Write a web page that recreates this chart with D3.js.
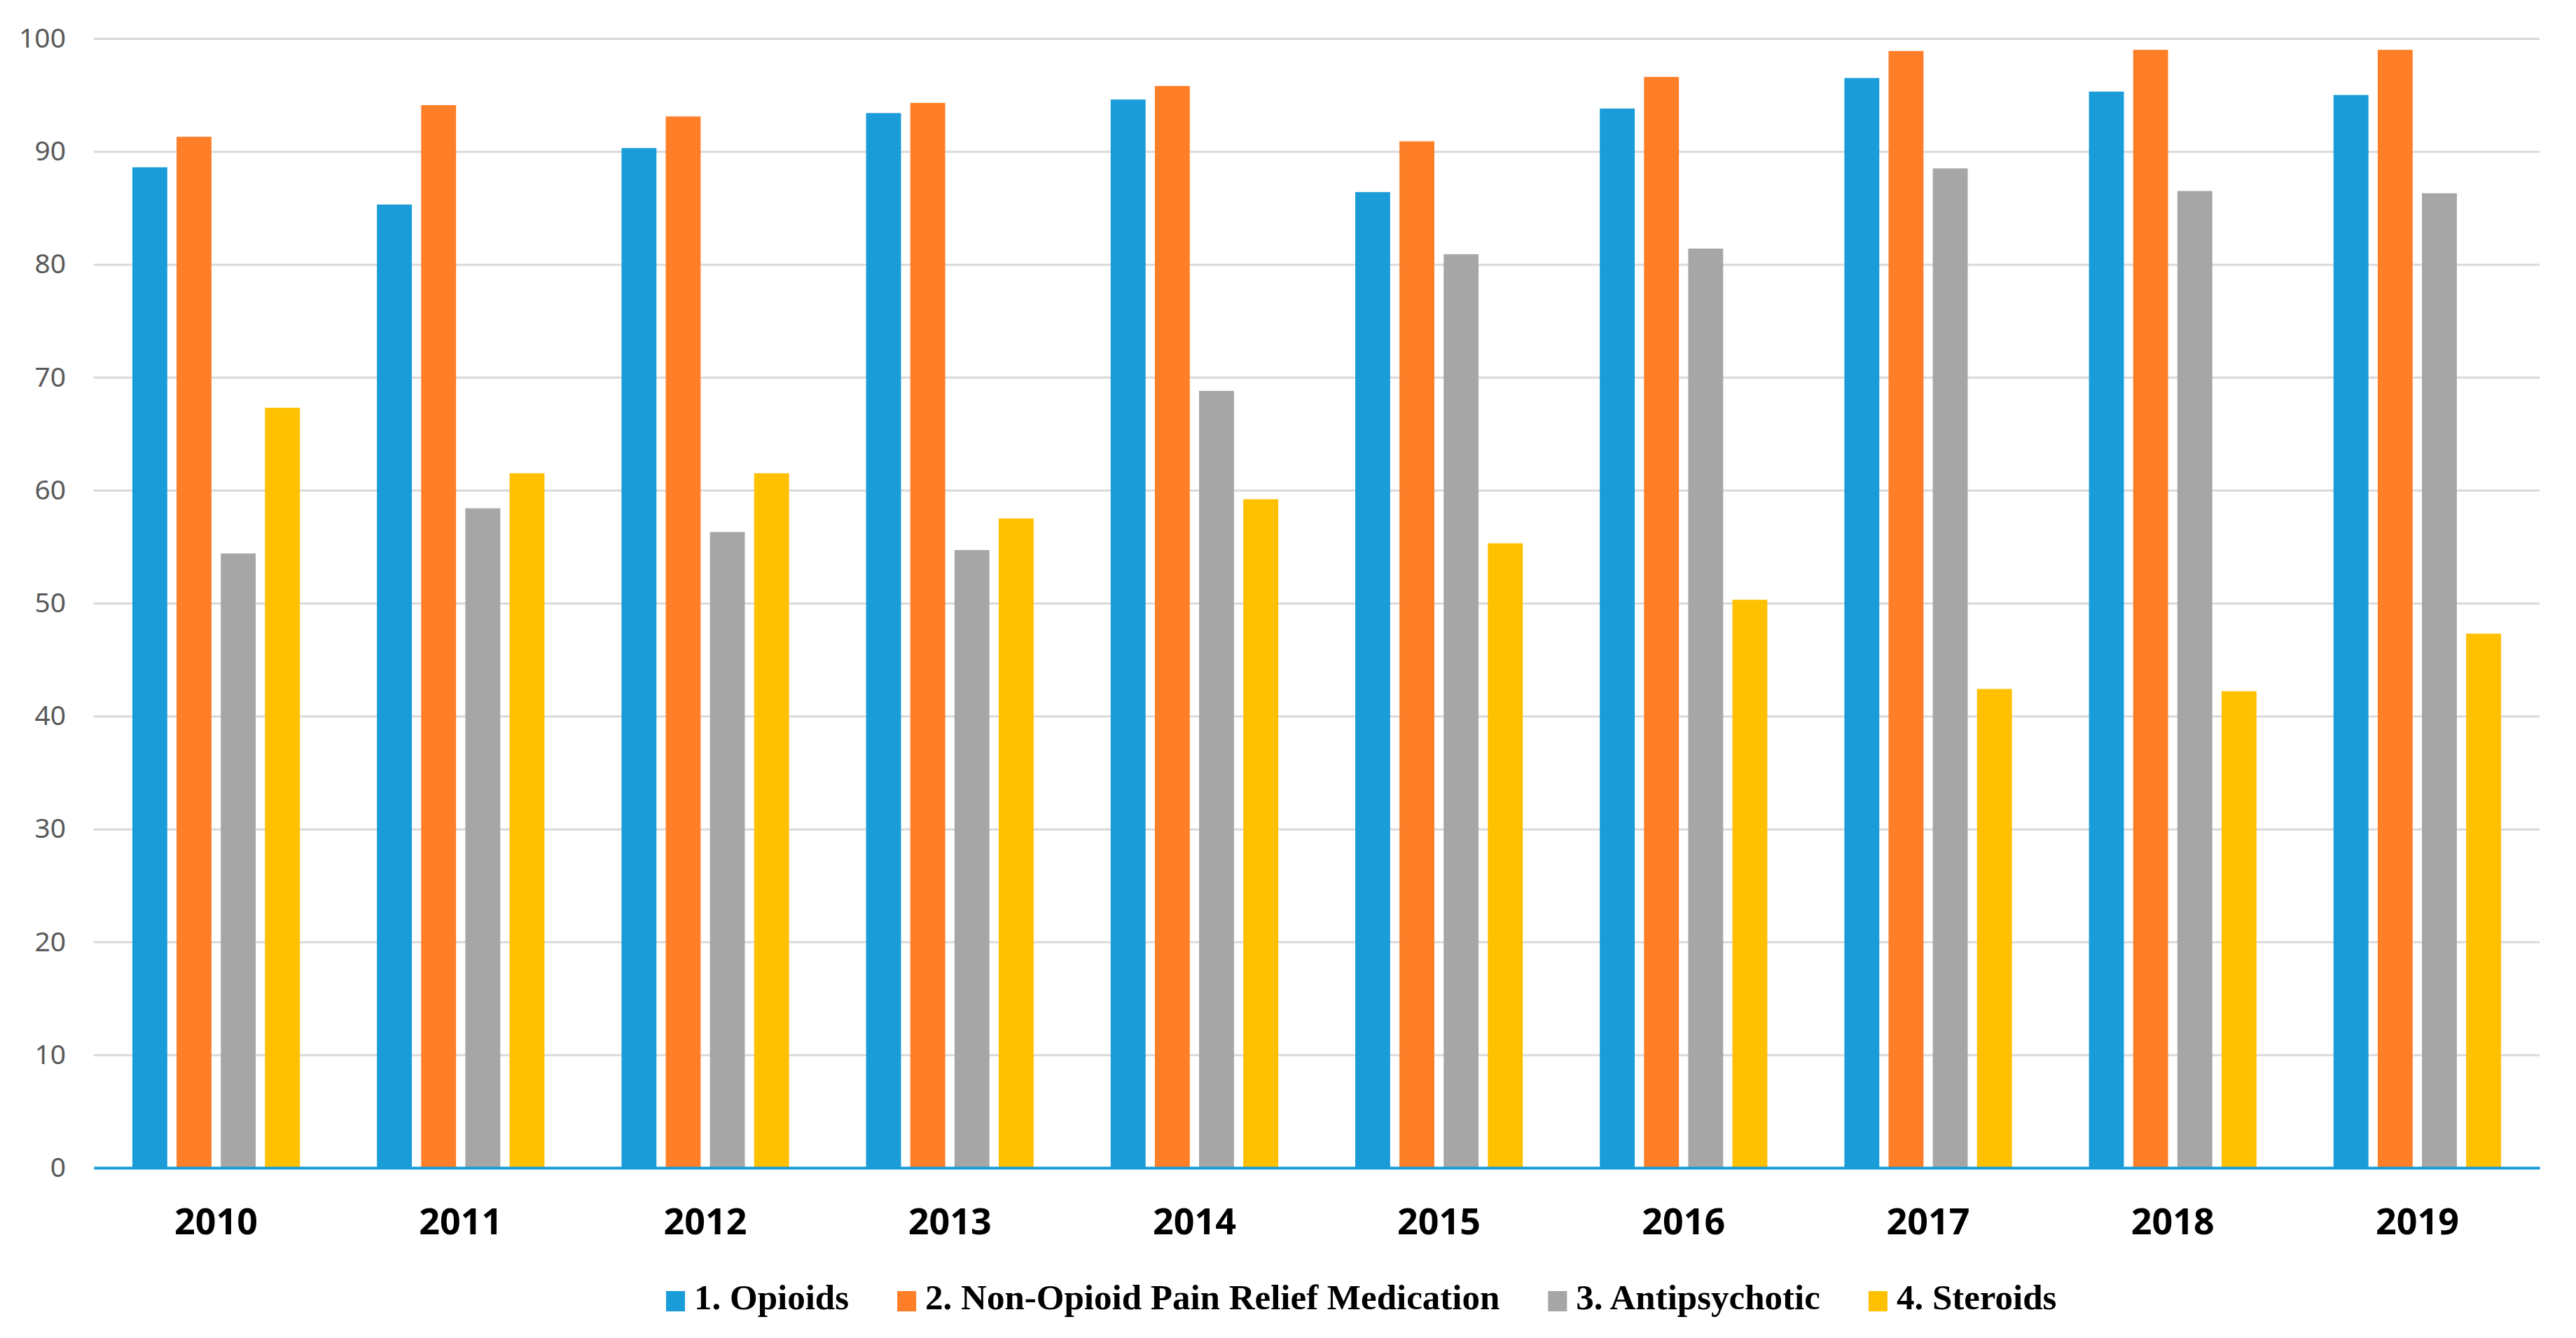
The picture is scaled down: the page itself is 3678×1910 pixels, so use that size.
<!DOCTYPE html>
<html>
<head>
<meta charset="utf-8">
<script src="https://cdn.jsdelivr.net/npm/d3@7"></script>
<style>
  body { margin: 0; background: #fff; }
  .chart text { font-family: 'Noto Sans', sans-serif; }
</style>
</head>
<body>
<div class="chart"></div>
<script>
const years = ['2010', '2011', '2012', '2013', '2014', '2015', '2016', '2017', '2018', '2019'];
const seriesNames = ['1. Opioids', '2. Non-Opioid Pain Relief Medication', '3. Antipsychotic', '4. Steroids'];
const opioids    = [88.6, 85.3, 90.3, 93.4, 94.6, 86.4, 93.8, 96.5, 95.3, 95.0];
const nonOpioid  = [91.3, 94.1, 93.1, 94.3, 95.8, 90.9, 96.6, 98.9, 99.0, 99.0];
const antipsych  = [54.4, 58.4, 56.3, 54.7, 68.8, 80.9, 81.4, 88.5, 86.5, 86.3];
const steroids   = [67.3, 61.5, 61.5, 57.5, 59.2, 55.3, 50.3, 42.4, 42.2, 47.3];
const yTicks = [0, 10, 20, 30, 40, 50, 60, 70, 80, 90, 100];
const colors = ['#1a9cd8', '#fe7f27', '#a6a6a6', '#ffc000'];

const allSeries = [opioids, nonOpioid, antipsych, steroids];

const width = 3678, height = 1910;
const margin = { top: 55, right: 52, bottom: 243, left: 134 };

const svg = d3.select('.chart')
    .append('svg')
        .attr('width', width)
        .attr('height', height);

const x0 = d3.scaleBand()
    .domain(years)
    .range([margin.left, width - margin.right]);

const x1 = d3.scaleBand()
    .domain(seriesNames)
    .range([55, x0.bandwidth() - 55])
    .paddingInner(0.21);

const y = d3.scaleLinear()
    .domain([0, 100])
    .range([height - margin.bottom, margin.top]);

// gridlines + y labels
const yAxis = svg.append('g')
    .attr('transform', `translate(${margin.left},0)`)
    .call(d3.axisLeft(y).tickValues(yTicks).tickSize(-(width - margin.left - margin.right)).tickPadding(40));
yAxis.select('.domain').remove();
yAxis.selectAll('.tick line')
    .attr('stroke', '#d9d9d9')
    .attr('stroke-width', 3);
yAxis.selectAll('.tick text')
    .attr('fill', '#595959')
    .style('font-size', '39px');

// bars
const group = svg.selectAll('g.year')
    .data(years)
    .enter()
        .append('g')
        .attr('class', 'year')
        .attr('transform', d => `translate(${x0(d)},0)`);

group.selectAll('rect')
    .data((d, i) => seriesNames.map((s, k) => ({ s, k, v: allSeries[k][i] })))
    .enter()
        .append('rect')
        .attr('x', d => x1(d.s))
        .attr('width', x1.bandwidth())
        .attr('y', d => y(d.v))
        .attr('height', d => y(0) - y(d.v))
        .attr('fill', d => colors[d.k]);

// x axis
const xAxis = svg.append('g')
    .attr('transform', `translate(0,${y(0)})`)
    .call(d3.axisBottom(x0).tickSize(0).tickPadding(58));
xAxis.select('.domain')
    .attr('stroke', '#1a9cd8')
    .attr('stroke-width', 4);
xAxis.selectAll('.tick text')
    .attr('fill', '#000')
    .style('font-size', '52px')
    .style('font-weight', 'bold');

// legend
const legend = svg.append('g')
    .attr('transform', 'translate(951,1843)');
let lx = 0;
seriesNames.forEach((name, k) => {
    const item = legend.append('g').attr('transform', `translate(${lx},0)`);
    item.append('rect')
        .attr('width', 27)
        .attr('height', 29)
        .attr('fill', colors[k]);
    const t = item.append('text')
        .attr('x', 40)
        .attr('y', 26)
        .style('font-family', "'Liberation Serif', serif")
        .style('font-size', '51px')
        .style('font-weight', 'bold')
        .attr('fill', '#000')
        .text(name);
    lx += 40 + t.node().getComputedTextLength() + 69;
});
</script>
</body>
</html>
